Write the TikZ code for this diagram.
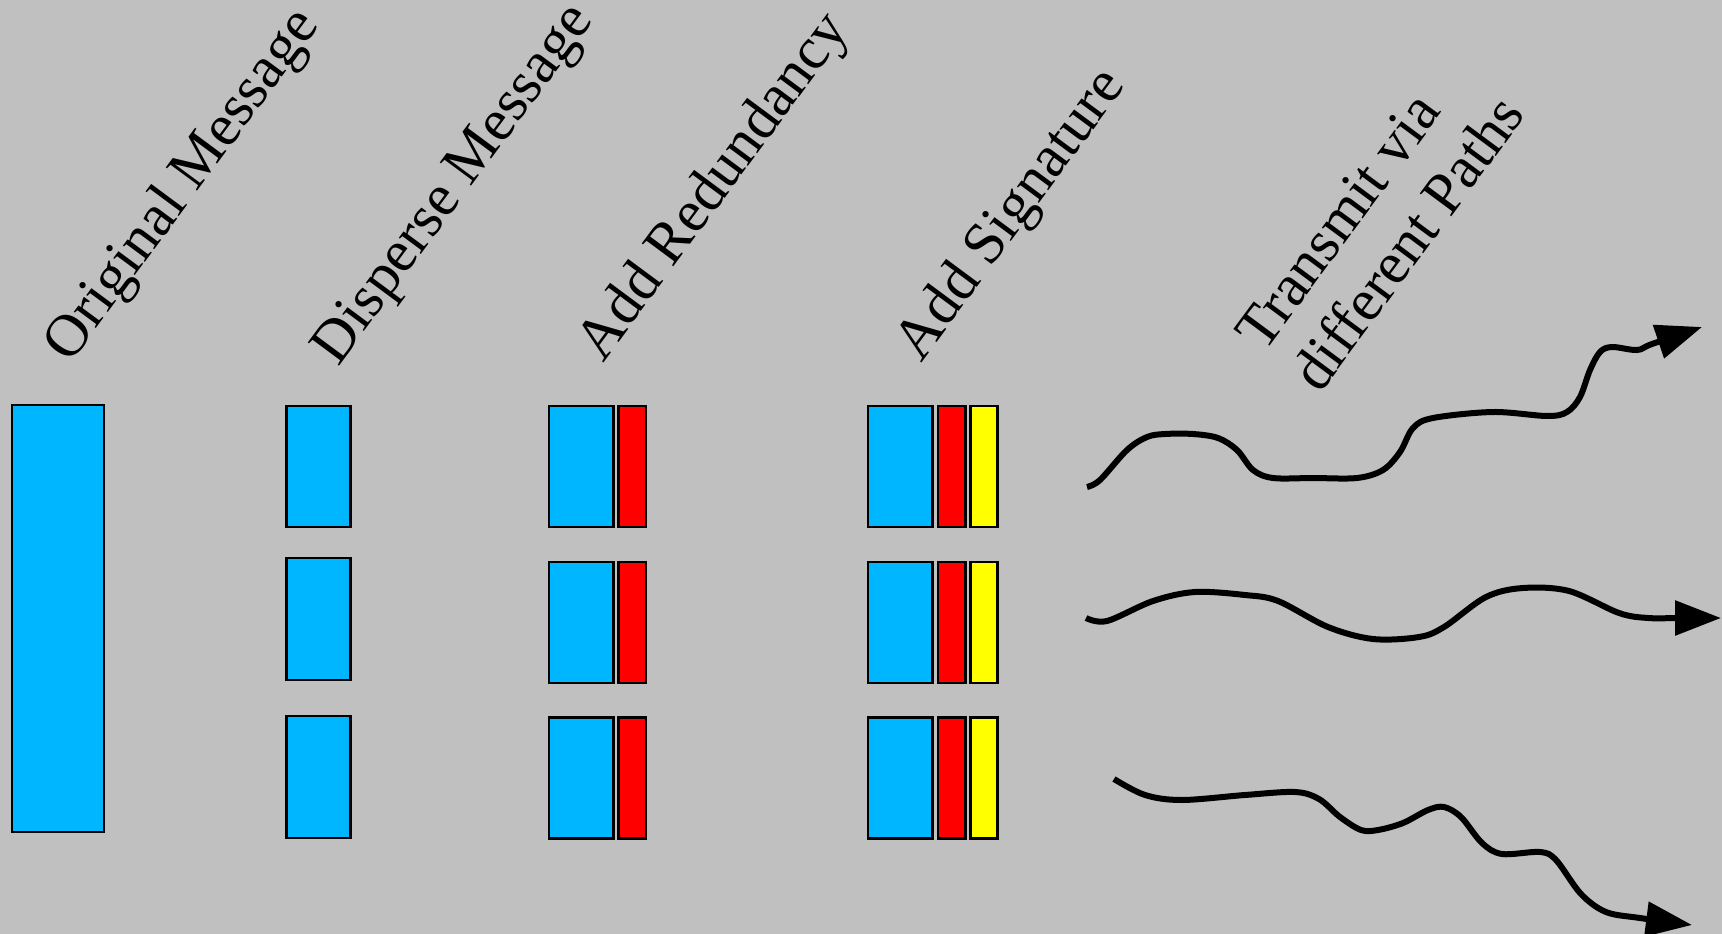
\documentclass[tikz,border=0pt]{standalone}
\usepackage{fontspec}
\setmainfont{Liberation Serif}
\usetikzlibrary{arrows.meta}
\definecolor{bgc}{RGB}{192,192,192}
\definecolor{msgblue}{RGB}{0,183,255}
\definecolor{redund}{RGB}{255,0,0}
\definecolor{sigyel}{RGB}{255,255,0}
\begin{document}
\begin{tikzpicture}[x=1pt,y=-1pt,
  blk/.style={draw=black, line width=2.8pt, inner sep=0pt, outer sep=0pt},
  msg/.style={blk, fill=msgblue, minimum width=64.5pt},
  red/.style={blk, fill=redund, minimum width=27.5pt},
  sig/.style={blk, fill=sigyel, minimum width=27pt},
  lbl/.style={rotate=53.5, anchor=base west, inner sep=0pt, outer sep=0pt, font=\fontsize{59.5}{70}\selectfont},
  wave/.style={line width=6pt, -{Triangle[length=46pt,width=34pt]}}]
\fill[bgc] (0,0) rectangle (1722,934);
\useasboundingbox (0,0) rectangle (1722,934);

% labels
\node[lbl] (l1) at (70,364) {Original Message};
\node[lbl] (l2) at (338,367) {Disperse Message};
\node[lbl] (l3) at (603,363) {Add Redundancy};
\node[lbl] (l4) at (921,363) {Add Signature};
\node[lbl] (l5a) at (1264,353) {Transmit via};
\node[lbl] (l5b) at (1320,394) {different Paths};

% original message
\node[blk, fill=msgblue, minimum width=92pt, minimum height=427pt] (orig) at (58,618.5) {};

% dispersed parts
\node[msg, minimum height=121pt] (d1) at (318.5,466.5) {};
\node[msg, minimum height=122pt] (d2) at (318.5,619) {};
\node[msg, minimum height=122pt] (d3) at (318.5,777) {};

% redundancy and signature
\foreach \i/\y in {1/466.5, 2/622.5, 3/778} {
  \node[msg, minimum height=121pt] (rb\i) at (581.25,\y) {};
  \node[red, minimum height=121pt] (rr\i) at (632.25,\y) {};
  \node[msg, minimum height=121pt] (sb\i) at (900.25,\y) {};
  \node[red, minimum height=121pt] (sr\i) at (951.75,\y) {};
  \node[sig, minimum height=121pt] (sy\i) at (984,\y) {};
}

% transmission paths
\draw[wave] plot[smooth, tension=0.55] coordinates {
  (1087,487) (1100,480) (1127,450) (1147,437) (1165,434) (1193,434) (1218,438)
  (1237,450) (1253,470) (1273,478) (1313,478) (1357,478) (1383,470) (1400,452)
  (1413,428) (1433,418) (1493,412) (1547,416) (1567,412) (1580,397) (1590,370)
  (1600,352) (1612,347) (1637,350) (1652,344) (1702,327)};
\draw[wave] plot[smooth, tension=0.55] coordinates {
  (1086,618) (1107,621) (1153,601) (1195,592) (1245,595) (1278,601) (1328,627)
  (1373,639) (1419,637) (1444,627) (1486,597) (1523,588) (1569,591) (1619,613)
  (1648,618) (1680,618) (1721,618)};
\draw[wave] plot[smooth, tension=0.55] coordinates {
  (1114,779) (1145,795) (1182,800) (1245,795) (1295,792) (1319,799) (1340,817)
  (1361,830) (1378,830) (1403,823) (1428,810) (1444,807) (1461,817) (1482,843)
  (1502,854) (1540,852) (1556,860) (1581,894) (1606,912) (1640,918) (1692,925)};
\end{tikzpicture}
\end{document}
